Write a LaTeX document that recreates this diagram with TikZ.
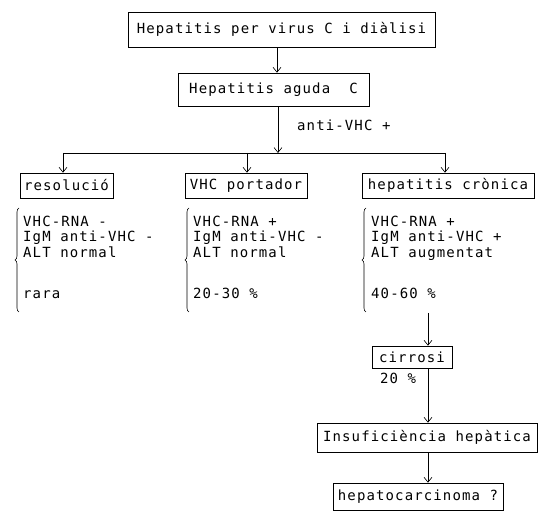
\documentclass[tikz,border=0pt]{standalone}
\usepackage{fontspec}
\newfontfamily\dm[LetterSpace=8]{DejaVu Sans Mono}
\usetikzlibrary{arrows.meta,decorations.pathreplacing}
\begin{document}
\begin{tikzpicture}[x=1pt,y=-1pt,
  box/.style={draw,line width=0.6pt,inner sep=0pt,font=\dm\fontsize{14}{16}\selectfont},
  txt/.style={inner sep=0pt,anchor=base west,font=\dm\fontsize{14}{16}\selectfont},
  link/.style={line width=0.6pt,-{Straight Barb[length=5pt,width=8pt]}},
  plain/.style={line width=0.6pt},
  brc/.style={decorate,decoration={brace,amplitude=4pt},line width=0.6pt}]
\useasboundingbox (0,0) rectangle (550,518);
% boxes
\node[box,minimum width=307pt,minimum height=35pt] (top) at (281.5,29.5) {Hepatitis per virus C i diàlisi};
\node[box,minimum width=191pt,minimum height=33pt] (aguda) at (273.5,89.5) {Hepatitis aguda~~C};
\node[box,minimum width=93pt,minimum height=25pt] (reso) at (66.5,185.5) {resolució};
\node[box,minimum width=122pt,minimum height=25pt] (port) at (246,185.5) {VHC portador};
\node[box,minimum width=172pt,minimum height=25pt] (cron) at (448,185.5) {hepatitis crònica};
\node[box,minimum width=80pt,minimum height=22pt] (cirr) at (412,357) {cirrosi};
\node[box,minimum width=220pt,minimum height=29pt] (insu) at (427,437.5) {Insuficiència hepàtica};
\node[box,minimum width=170pt,minimum height=27pt] (hcc) at (418,496.5) {hepatocarcinoma ?};
% labels
\node[txt] (anti) at (297,131) {anti-VHC +};
\node[txt] (vint) at (380,384) {20 \%};
% lists
\node[txt] (a1) at (23,227) {VHC-RNA -};
\node[txt] (a2) at (23,242) {IgM anti-VHC -};
\node[txt] (a3) at (23,258) {ALT normal};
\node[txt] (a4) at (23,299) {rara};
\node[txt] (b1) at (193,227) {VHC-RNA +};
\node[txt] (b2) at (193,242) {IgM anti-VHC -};
\node[txt] (b3) at (193,258) {ALT normal};
\node[txt] (b4) at (193,299) {20-30 \%};
\node[txt] (c1) at (371,227) {VHC-RNA +};
\node[txt] (c2) at (371,242) {IgM anti-VHC +};
\node[txt] (c3) at (371,258) {ALT augmentat};
\node[txt] (c4) at (371,299) {40-60 \%};
% braces
\draw[brc] (19,312) -- (19,208);
\draw[brc] (189,312) -- (189,208);
\draw[brc] (366,312) -- (366,208);
% connectors
\coordinate (j) at (278,153);
\coordinate (jl) at (63,153);
\coordinate (jm) at (247,153);
\coordinate (jr) at (445,153);
\coordinate (cx) at (428,313);
\draw[link] (top.south -| 277,0) -- (aguda.north -| 277,0);
\draw[link] (aguda.south -| j) -- (j);
\draw[plain] (jl) -- (jr);
\draw[link] (jl) -- (reso.north -| jl);
\draw[link] (jm) -- (port.north -| jm);
\draw[link] (jr) -- (cron.north -| jr);
\draw[link] (cx) -- (cirr.north -| cx);
\draw[link] (cirr.south -| cx) -- (insu.north -| cx);
\draw[link] (insu.south -| cx) -- (hcc.north -| cx);
\end{tikzpicture}
\end{document}
